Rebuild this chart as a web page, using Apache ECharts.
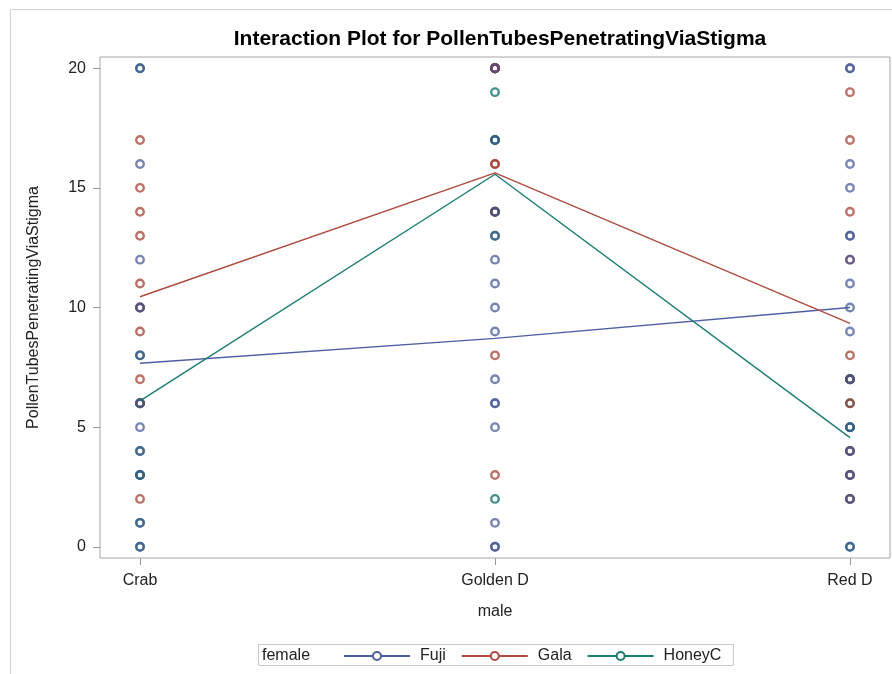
<!DOCTYPE html>
<html><head><meta charset="utf-8">
<script src="https://cdn.jsdelivr.net/npm/echarts@6/dist/echarts.min.js"></script>
<style>html,body{margin:0;padding:0;background:#fff}#c{width:892px;height:674px}</style>
</head><body><div id="c"></div>
<script>
// ---- data ----
const categories = ['Crab', 'Golden D', 'Red D'];
const groups = ['Fuji', 'Gala', 'HoneyC'];
const yTicks = [0, 5, 10, 15, 20];
// observations per group, one list per male category (Crab, Golden D, Red D)
const fujiObs = [
  [20, 16, 12, 10, 8, 6, 5, 4, 3, 1, 0],
  [20, 17, 14, 13, 12, 11, 10, 9, 7, 6, 6, 5, 1, 0, 0],
  [20, 20, 16, 15, 13, 13, 12, 11, 10, 9, 7, 5, 4, 3, 2, 0]
];
const galaObs = [
  [17, 15, 14, 13, 11, 10, 9, 7, 6, 2],
  [20, 20, 20, 20, 20, 16, 16, 14, 8, 3],
  [19, 17, 14, 12, 8, 7, 6, 4, 3, 2]
];
const honeyObs = [
  [20, 10, 8, 6, 6, 4, 3, 3, 1, 0],
  [20, 20, 20, 19, 17, 17, 14, 14, 13, 2],
  [7, 7, 7, 6, 5, 5, 4, 3, 2, 0]
];
// cell means (lines)
const fujiMeans = [7.67, 8.71, 10.0];
const galaMeans = [10.45, 15.63, 9.34];
const honeyMeans = [6.1, 15.57, 4.56];

// ---- styling ----
const lineColors = { Fuji: '#4f5ea3', Gala: '#b04a3e', HoneyC: '#1a7d70' };
const markerRgba = { Fuji: 'rgba(68,86,148,0.9)', Gala: 'rgba(162,58,46,0.9)', HoneyC: 'rgba(1,102,94,0.9)' };
const font = "'Liberation Sans', Arial, sans-serif";

function toPoints(obs) {
  const pts = [];
  obs.forEach((vals, i) => vals.forEach(v => pts.push([i, v])));
  return pts;
}
function lineSeries(name, means) {
  return {
    name, type: 'line', data: means.map((m, i) => [i, m]), z: 4,
    symbol: 'emptyCircle', symbolSize: 8, showSymbol: false,
    lineStyle: { color: lineColors[name], width: 1.4 },
    itemStyle: { color: lineColors[name], borderColor: lineColors[name], borderWidth: 1.5 },
    emphasis: { disabled: true }, animation: false
  };
}
function scatterSeries(name, obs) {
  return {
    name, type: 'scatter', data: toPoints(obs), z: 2,
    symbol: 'circle', symbolSize: 7.5,
    itemStyle: { color: 'rgba(255,255,255,0)', borderColor: markerRgba[name], borderWidth: 2.4 },
    emphasis: { disabled: true }, animation: false
  };
}

const chart = echarts.init(document.getElementById('c'), null, { renderer: 'canvas' });
chart.setOption({
  animation: false,
  backgroundColor: '#fff',
  title: {
    text: 'Interaction Plot for PollenTubesPenetratingViaStigma',
    left: 495, top: 24, textAlign: 'center',
    textStyle: { fontFamily: font, fontWeight: 'bold', fontSize: 21, color: '#000' }
  },
  grid: { left: 100, right: 2, top: 57, bottom: 116, containLabel: false,
    show: true, borderColor: '#a6a6a6', borderWidth: 1, backgroundColor: 'rgba(0,0,0,0)' },
  xAxis: {
    type: 'value', min: -0.1127, max: 2.1127,
    name: 'male', nameLocation: 'middle', nameGap: 46,
    nameTextStyle: { fontFamily: font, fontSize: 16, color: '#222' },
    axisLine: { show: false, onZero: false },
    axisTick: { show: true, length: 7, lineStyle: { color: '#999' }, customValues: [0, 1, 2] },
    axisLabel: { margin: 15, fontFamily: font, fontSize: 16, color: '#222', customValues: [0, 1, 2],
      formatter: v => categories[Math.round(v)] },
    splitLine: { show: false }
  },
  yAxis: {
    type: 'value', min: -0.47, max: 20.47,
    name: 'PollenTubesPenetratingViaStigma', nameLocation: 'middle', nameGap: 58,
    nameTextStyle: { fontFamily: font, fontSize: 16, color: '#222' },
    axisLine: { show: false, onZero: false },
    axisTick: { show: true, length: 7, lineStyle: { color: '#999' }, customValues: yTicks },
    axisLabel: { margin: 14, fontFamily: font, fontSize: 16, color: '#222', customValues: yTicks,
      formatter: v => String(v) },
    splitLine: { show: false }
  },
  legend: {
    data: groups, left: 338, top: 643, itemWidth: 66, itemHeight: 10, itemGap: 15,
    textStyle: { fontFamily: font, fontSize: 16, color: '#222', padding: [0, 0, 0, 5] },
    selectedMode: false
  },
  graphic: [
    { type: 'rect', silent: true, shape: { x: 10.5, y: 9.5, width: 1000, height: 1000 }, style: { fill: 'none', stroke: '#d3d3d3', lineWidth: 1 }, z: -1 },
    { type: 'rect', silent: true, shape: { x: 258.5, y: 644.5, width: 475, height: 21 }, style: { fill: 'none', stroke: '#c9c9c9', lineWidth: 1 } },
    { type: 'text', silent: true, x: 262, y: 656, style: { text: 'female', font: "16px 'Liberation Sans', Arial, sans-serif", fill: '#222', verticalAlign: 'middle' } }
  ],
  series: [
    lineSeries('Fuji', fujiMeans),
    lineSeries('Gala', galaMeans),
    lineSeries('HoneyC', honeyMeans),
    scatterSeries('HoneyC', honeyObs),
    scatterSeries('Gala', galaObs),
    scatterSeries('Fuji', fujiObs)
  ]
});
</script>
</body></html>
